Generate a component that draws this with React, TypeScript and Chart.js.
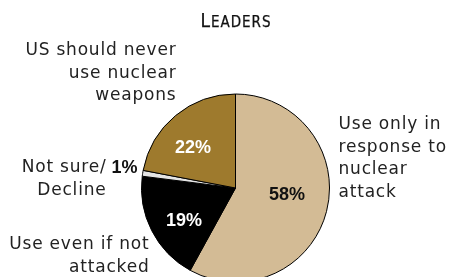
import React, { useEffect, useRef } from "react";
import { Chart, registerables } from "chart.js";

Chart.register(...registerables);

const categories = [
  "Use only in response to nuclear attack",
  "Use even if not attacked",
  "Not sure/ Decline",
  "US should never use nuclear weapons",
];
const values = [58, 19, 1, 22];
const valueLabels = ["58%", "19%", "1%", "22%"];
const colors = ["#D3BB95", "#000000", "#E4E4E4", "#9E7A2D"];
const titleText = "Leaders";

const labelFont = "17px 'DejaVu Sans', sans-serif";
const pctFont = "bold 18px 'Liberation Sans', Arial, sans-serif";

const labelsPlugin = {
  id: "customLabels",
  afterDraw(chart: any) {
    const ctx = chart.ctx;
    const meta = chart.getDatasetMeta(0);
    ctx.save();
    // title in small caps
    ctx.textBaseline = "alphabetic";
    const first = titleText[0].toUpperCase();
    const rest = titleText.slice(1).toUpperCase();
    const tf = "'DejaVu Sans Condensed', 'DejaVu Sans', sans-serif";
    (ctx as any).letterSpacing = "1px";
    ctx.font = "19px " + tf;
    const w1 = ctx.measureText(first).width;
    ctx.font = "15px " + tf;
    const w2 = ctx.measureText(rest).width;
    const tx = 236 - (w1 + w2) / 2;
    ctx.fillStyle = "#111";
    ctx.strokeStyle = "#111";
    ctx.lineWidth = 0.25;
    ctx.font = "19px " + tf;
    ctx.textAlign = "left";
    ctx.fillText(first, tx, 26.5);
    ctx.strokeText(first, tx, 26.5);
    ctx.font = "15px " + tf;
    ctx.fillText(rest, tx + w1, 26.5);
    ctx.strokeText(rest, tx + w1, 26.5);
    (ctx as any).letterSpacing = "0px";

    // percentage labels inside slices
    const arcs = meta.data;
    const cx = arcs[0].x;
    const cy = arcs[0].y;
    const r = arcs[0].outerRadius;
    const inside = [
      { i: 0, dx: 51.5, dy: 6, color: "#111" },
      { i: 1, dx: -51.5, dy: 32, color: "#fff" },
      { i: 3, dx: -42.5, dy: -41, color: "#fff" },
    ];
    ctx.font = pctFont;
    ctx.textAlign = "center";
    ctx.textBaseline = "middle";
    inside.forEach(({ i, dx, dy, color }) => {
      ctx.fillStyle = color;
      ctx.fillText(valueLabels[i], cx + dx, cy + dy + 1);
    });

    // category labels
    ctx.font = labelFont;
    (ctx as any).letterSpacing = "0.8px";
    ctx.fillStyle = "#222";
    const lh = 22.5;
    // right: Use only in response to nuclear attack
    ctx.textAlign = "left";
    ["Use only in", "response to", "nuclear", "attack"].forEach((t, k) =>
      ctx.fillText(t, cx + r + 9, cy - 63 + k * lh)
    );
    // top-left: US should never use nuclear weapons
    ctx.textAlign = "right";
    ["US should never", "use nuclear", "weapons"].forEach((t, k) =>
      ctx.fillText(t, cx - 59, cy - 137 + k * lh)
    );
    // Not sure / Decline
    ["Not sure/", "Decline"].forEach((t, k) =>
      ctx.fillText(t, cx - 129, cy - 20 + k * lh)
    );
    // bottom-left: Use even if not attacked
    ["Use even if not", "attacked"].forEach((t, k) =>
      ctx.fillText(t, cx - 86, cy + 57 + k * lh)
    );
    (ctx as any).letterSpacing = "0px";
    ctx.font = pctFont;
    ctx.textAlign = "left";
    ctx.fillStyle = "#111";
    ctx.fillText(valueLabels[2], cx - 124, cy - 20);
    ctx.restore();
  },
};

export default function App() {
  const ref = useRef<HTMLCanvasElement>(null);
  useEffect(() => {
    document.body.style.margin = "0";
    const chart = new Chart(ref.current!, {
      type: "pie",
      data: {
        labels: categories,
        datasets: [
          {
            data: values,
            backgroundColor: colors,
            borderColor: "#000",
            borderWidth: 1,
          },
        ],
      },
      options: {
        animation: false,
        responsive: false,
        rotation: 0,
        layout: { padding: { left: 141, right: 120, top: 93.5, bottom: 17.5 } },
        plugins: {
          legend: { display: false },
          title: { display: false },
          tooltip: { enabled: false },
        },
      },
      plugins: [labelsPlugin],
    });
    return () => chart.destroy();
  }, []);
  return (
    <div style={{ position: "absolute", left: 0, top: 0, width: 450, height: 277, overflow: "hidden", background: "#fff" }}>
      <canvas ref={ref} width={450} height={300} style={{ width: 450, height: 300, display: "block" }} />
    </div>
  );
}
